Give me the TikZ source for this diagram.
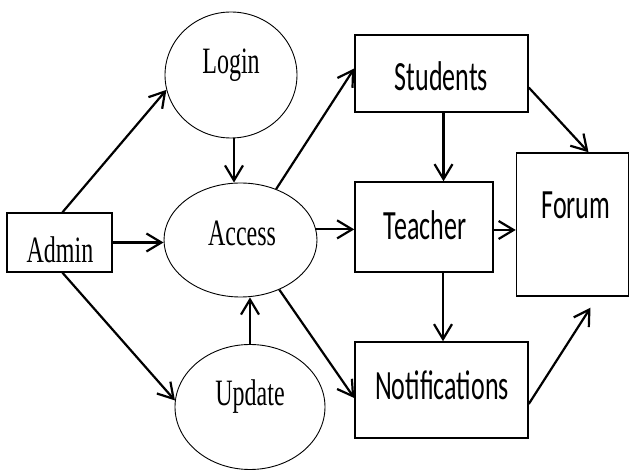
\documentclass[tikz,border=0pt]{standalone}
\usepackage{fontspec}
\usepackage{graphicx}
\usetikzlibrary{shapes.geometric,arrows.meta}
\newfontfamily\serifface{Liberation Serif}
\newfontfamily\calface{Carlito}
\tikzset{
  oval/.style={ellipse, draw, line width=0.9pt, inner sep=0pt},
  boxnode/.style={rectangle, draw, line width=1.5pt, inner sep=0pt},
  sertext/.style={inner sep=0pt, font=\serifface\fontsize{24}{28}\selectfont},
  caltext/.style={inner sep=0pt, font=\calface\fontsize{26}{30}\selectfont},
  conn/.style={line width=2.2pt, -{Straight Barb[length=15pt,width=18pt]}},
}
\newcommand{\sst}[1]{\scalebox{1}[1.55]{#1}}
\newcommand{\cst}[1]{\scalebox{1}[1.6]{#1}}
\begin{document}
\begin{tikzpicture}[x=1pt,y=-1pt]
\useasboundingbox (0,0) rectangle (630,470);
% shapes
\node[boxnode, minimum width=105pt, minimum height=59pt] (admin) at (59.5,242.5) {};
\node[oval, minimum width=132pt, minimum height=126pt] (login) at (231,75) {};
\node[oval, minimum width=153pt, minimum height=114pt] (access) at (240.5,240) {};
\node[oval, minimum width=150pt, minimum height=125pt] (update) at (250,407) {};
\node[boxnode, minimum width=173pt, minimum height=77pt] (students) at (441.5,73.5) {};
\node[boxnode, minimum width=138pt, minimum height=90pt] (teacher) at (424,227) {};
\node[boxnode, minimum width=173pt, minimum height=96pt] (notif) at (441.5,390) {};
\node[boxnode, minimum width=112pt, minimum height=143pt] (forum) at (572.5,224.5) {};
% texts
\node[sertext] (tadmin) at (60,250) {\sst{Admin}};
\node[sertext] (tlogin) at (231,65) {\sst{Login}};
\node[sertext] (taccess) at (242,233) {\sst{Access}};
\node[sertext] (tupdate) at (250,397) {\sst{Update}};
\node[caltext] (tstudents) at (441.5,76) {\cst{Students}};
\node[caltext] (tteacher) at (425,225) {\cst{Teacher}};
\node[caltext] (tnotif) at (442,385) {\cst{Notifications}};
\node[caltext] (tforum) at (576,205) {\cst{Forum}};
% connectors
\draw[conn] ([xshift=3pt]admin.north) -- (login.193);
\draw[conn] ([xshift=3pt]admin.south) -- (update.175);
\draw[conn] (admin.east) -- (admin.east -| access.west);
\draw[conn] ([xshift=3pt]login.south) -- ([xshift=3pt]login.south |- access.north);
\draw[conn] (update.north) -- (update.north |- access.south);
\draw[conn] (access.55) -- ([yshift=5pt]students.west);
\draw[conn] (access.8) -- (access.8 -| teacher.west);
\draw[conn] (access.-52) -- ([yshift=-8pt]notif.west);
\draw[conn] ([xshift=2pt]students.south) -- ([xshift=2pt]students.south |- teacher.north);
\draw[conn] ([xshift=19pt]teacher.south) -- ([xshift=19pt]teacher.south |- notif.north);
\draw[conn] ([yshift=-14pt]students.east) -- ([xshift=16pt]forum.north);
\draw[conn] ([yshift=-3pt]teacher.east) -- ([yshift=-3pt]teacher.east -| forum.west);
\draw[conn] ([yshift=-14pt]notif.east) -- ([xshift=18pt,yshift=-11pt]forum.south);
\end{tikzpicture}
\end{document}
